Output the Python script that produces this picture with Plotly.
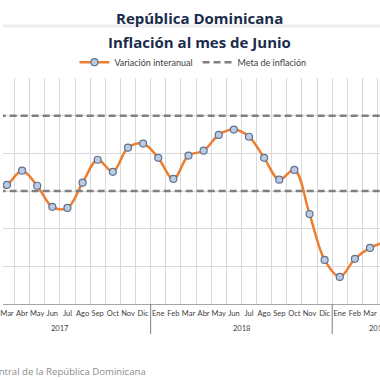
import plotly.graph_objects as go

# ---- data ----
months = ["Ene", "Feb", "Mar", "Abr", "May", "Jun", "Jul", "Ago", "Sep", "Oct", "Nov", "Dic",
          "Ene", "Feb", "Mar", "Abr", "May", "Jun", "Jul", "Ago", "Sep", "Oct", "Nov", "Dic",
          "Ene", "Feb", "Mar", "Abr", "May", "Jun"]
years = ["2017"] * 12 + ["2018"] * 12 + ["2019"] * 6
year_labels = ["2017", "2018", "2019"]
variacion = [None, 3.00, 3.16, 3.54, 3.14, 2.58, 2.55, 3.22, 3.83, 3.51, 4.15, 4.26,
             3.88, 3.32, 3.94, 4.07, 4.49, 4.63, 4.44, 3.88, 3.30, 3.56, 2.39, 1.17,
             0.72, 1.20, 1.49, 1.65, None, None]
meta_sup = [5] * 30
meta_inf = [3] * 30

cats = [f"{m} {y}" for m, y in zip(months, years)]

fig = go.Figure()
fig.add_trace(go.Scatter(
    x=cats, y=variacion, name="Variación interanual", mode="lines+markers",
    line=dict(color="#ED7D31", width=2.5, shape="spline", smoothing=1.0),
    marker=dict(size=7, color="#BCCBE2", line=dict(color="#5E7291", width=1.2)),
))
fig.add_trace(go.Scatter(
    x=cats, y=meta_sup, name="Meta de inflación", mode="lines",
    line=dict(color="#7F7F7F", width=2.5, dash="7px,4px"),
))
fig.add_trace(go.Scatter(
    x=cats, y=meta_inf, name="Meta de inflación", mode="lines", showlegend=False,
    line=dict(color="#7F7F7F", width=2.5, dash="7px,4px"),
))

# year group positions (category index) and dividers between groups
annotations = []
shapes = []
start = 0
for yl in year_labels:
    n = years.count(yl)
    annotations.append(dict(
        text=yl, xref="x", yref="paper", x=start + (n - 1) / 2, y=-(328 - 304) / 226,
        xanchor="center", yanchor="middle", showarrow=False,
        font=dict(size=7.5, color="#404040", family="Lato, sans-serif")))
    if start > 0:
        shapes.append(dict(type="line", xref="x", yref="paper", x0=start - 0.5, x1=start - 0.5,
                           y0=0, y1=-(334 - 304) / 226,
                           line=dict(color="#7F7F7F", width=1)))
    start += n

shapes.append(dict(type="line", xref="paper", yref="paper", x0=0, x1=1,
                   y0=(304 - 26) / 226, y1=(304 - 26) / 226,
                   line=dict(color="#EEEEEE", width=3)))

annotations += [
    dict(text="<b>República Dominicana</b>", xref="paper", yref="paper",
         x=198 / 380, y=(304 - 18) / 226, xanchor="center", yanchor="middle",
         showarrow=False, font=dict(size=15, color="#1B2B4B", family="Open Sans, sans-serif")),
    dict(text="<b>Inflación al mes de Junio</b>", xref="paper", yref="paper",
         x=198 / 380, y=(304 - 42) / 226, xanchor="center", yanchor="middle",
         showarrow=False, font=dict(size=15, color="#1B2B4B", family="Open Sans, sans-serif")),
    dict(text="Fuente: Banco Central de la República Dominicana", xref="paper", yref="paper",
         x=146 / 380, y=(304 - 371) / 226, xanchor="right", yanchor="middle",
         showarrow=False, font=dict(size=9.6, color="#8C8C8C", family="Open Sans, sans-serif")),
]

fig.update_layout(
    width=380, height=380,
    margin=dict(l=0, r=0, t=78, b=76),
    paper_bgcolor="white", plot_bgcolor="white",
    font=dict(family="Lato, sans-serif", color="#404040"),
    showlegend=True,
    legend=dict(orientation="h", x=72 / 380, xanchor="left", y=1.07, yanchor="middle",
                font=dict(size=9, color="#404040", family="Lato, sans-serif"),
                bgcolor="rgba(0,0,0,0)", itemwidth=30, tracegroupgap=0),
    xaxis=dict(
        type="category", range=[1.74, 26.66], tickson="boundaries",
        tickmode="array", tickvals=cats, ticktext=months,
        showgrid=True, gridcolor="#D9D9D9", gridwidth=1,
        showline=True, linecolor="#A6A6A6", linewidth=1,
        ticks="", tickangle=0, ticklabelstandoff=2,
        tickfont=dict(size=7.5, color="#404040", family="Lato, sans-serif"),
    ),
    yaxis=dict(
        range=[0, 6], dtick=1, showticklabels=False, showgrid=True,
        gridcolor="#D9D9D9", gridwidth=1, zeroline=False, showline=False,
    ),
    shapes=shapes,
    annotations=annotations,
)

fig.write_html("out.html", config={"displayModeBar": False},
               post_script="document.body.style.margin='0';")
